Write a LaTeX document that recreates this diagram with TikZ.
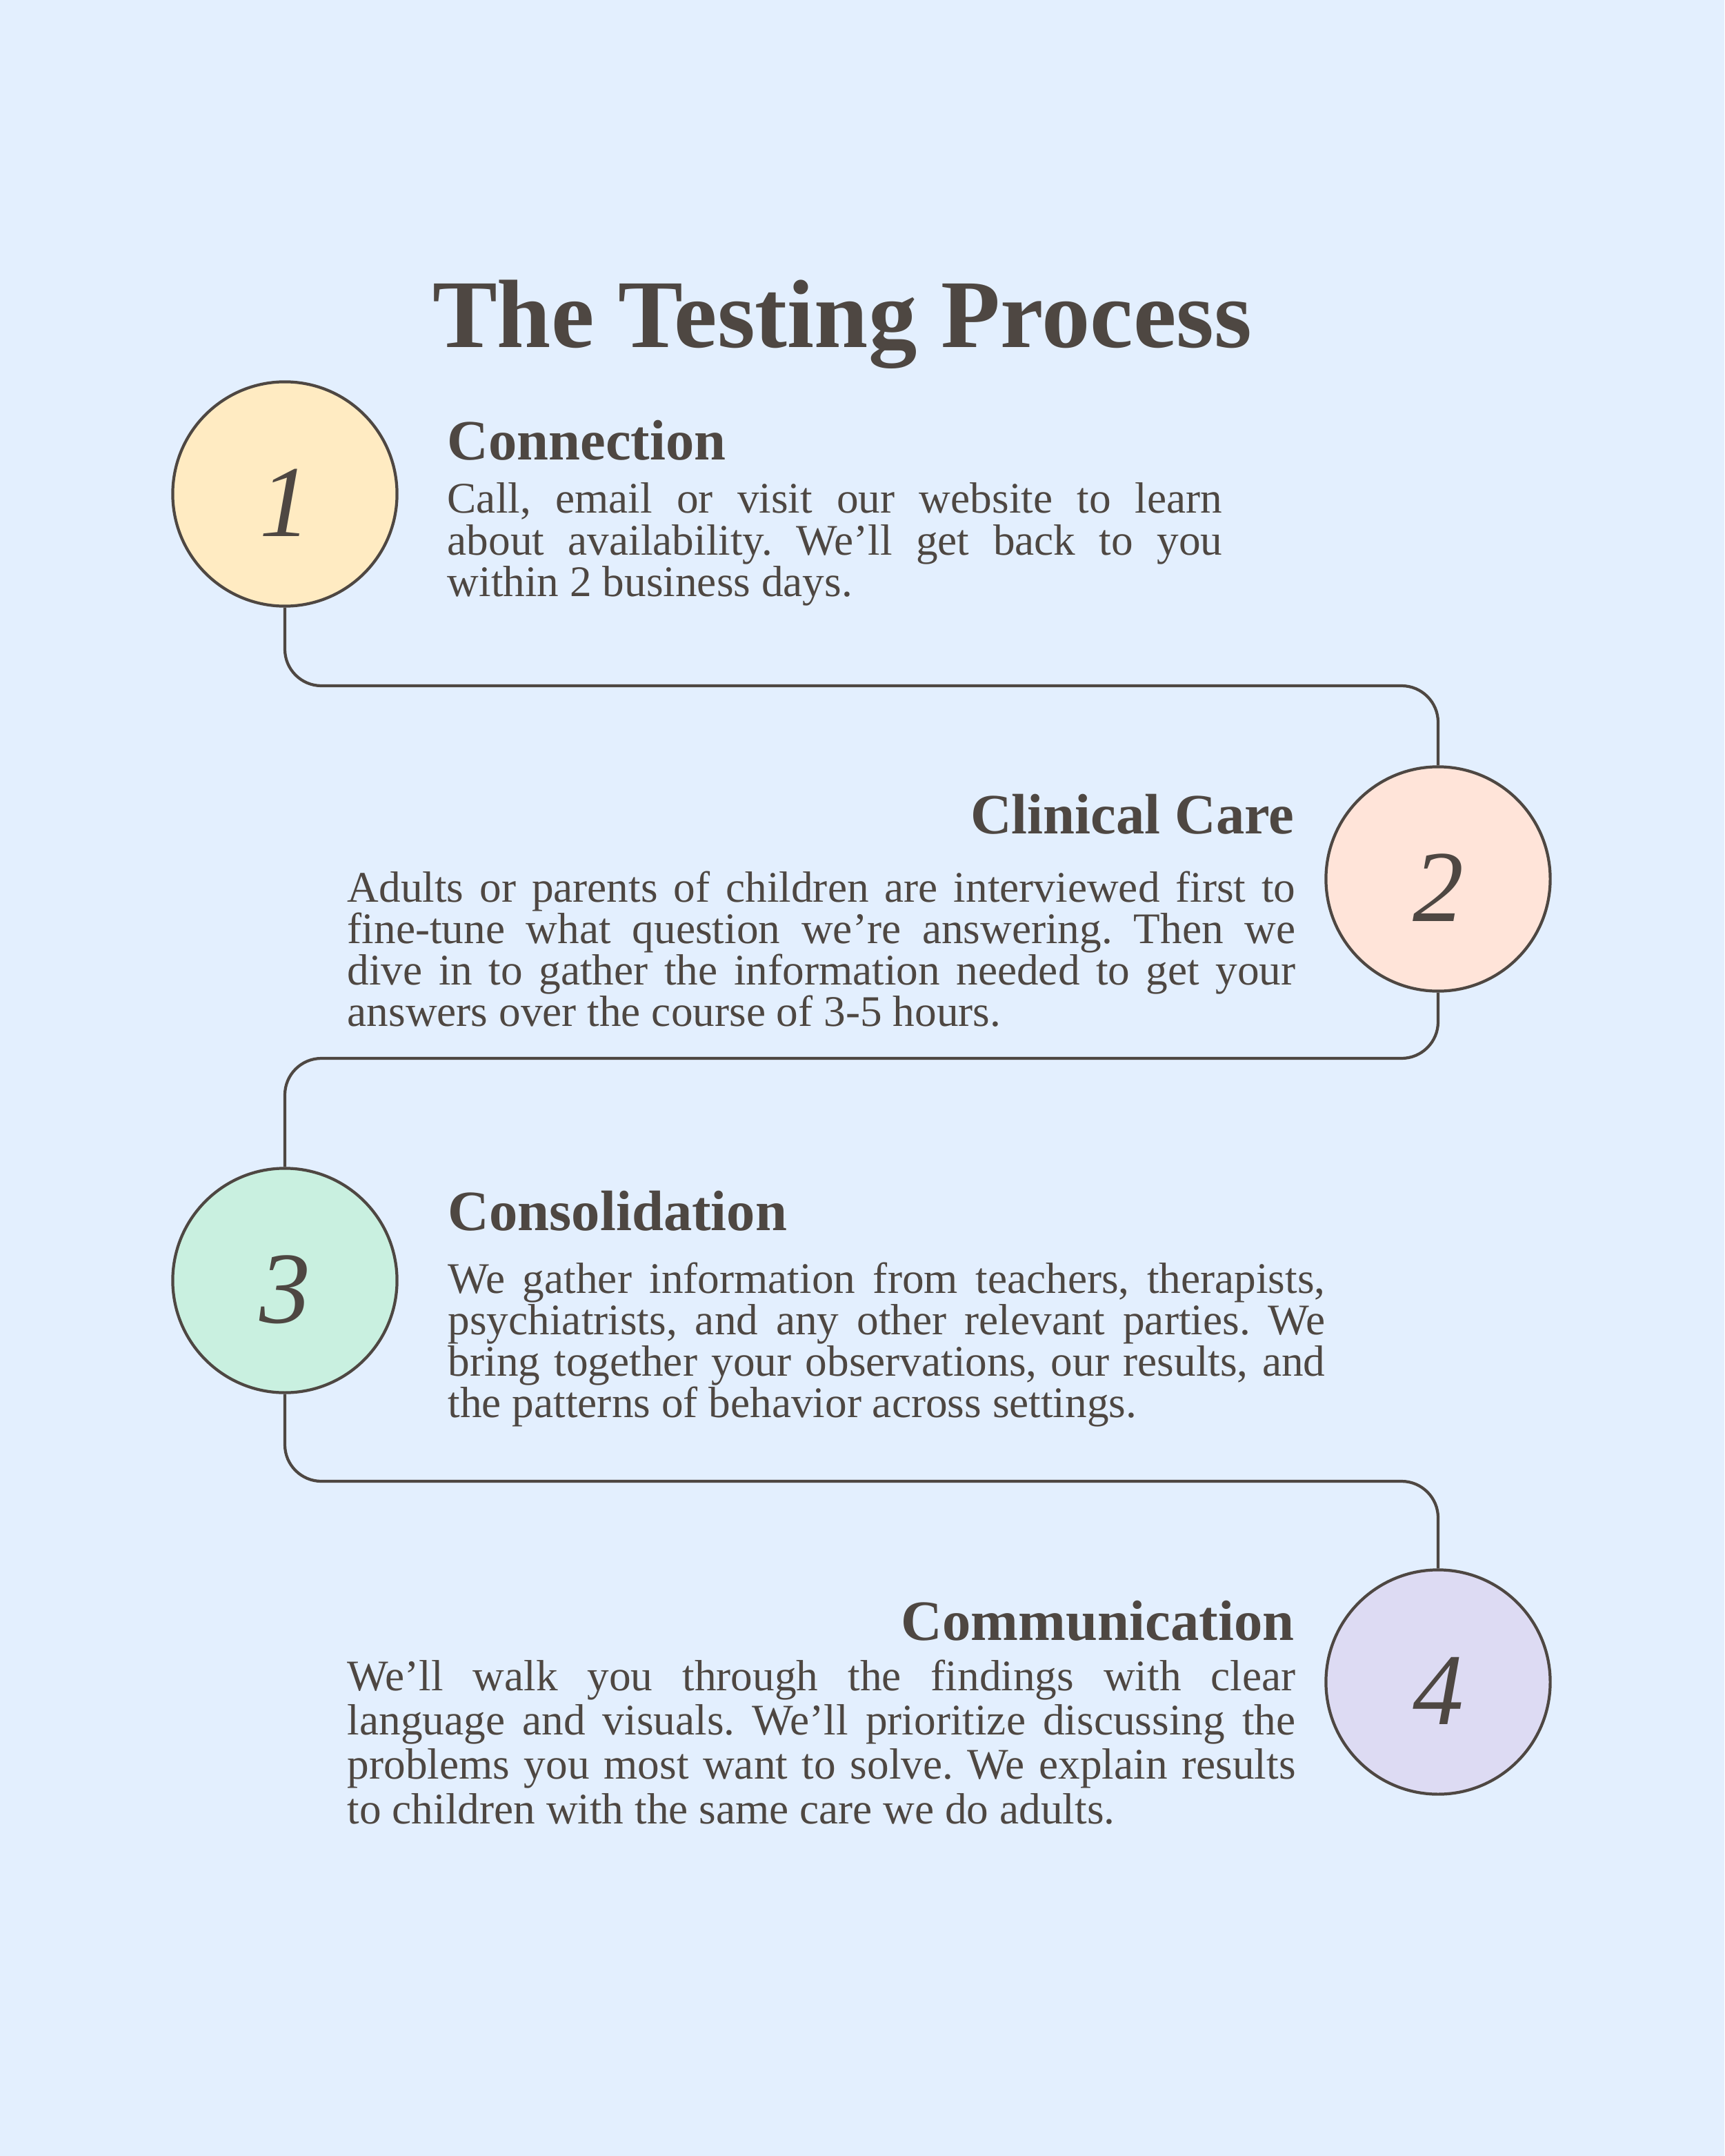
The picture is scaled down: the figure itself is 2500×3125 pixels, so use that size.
\documentclass[tikz,border=0pt]{standalone}
\usepackage{fontspec}
\setmainfont{Liberation Serif}
\usepackage{tikz}
\usetikzlibrary{positioning}
\definecolor{tpbg}{RGB}{227,239,254}
\definecolor{tpink}{RGB}{78,71,66}
\definecolor{tpyellow}{RGB}{255,235,194}
\definecolor{tppeach}{RGB}{255,228,217}
\definecolor{tpmint}{RGB}{201,240,224}
\definecolor{tplilac}{RGB}{221,219,243}
\hyphenpenalty=10000
\exhyphenpenalty=10000
\frenchspacing

\begin{document}
\begin{tikzpicture}[
      x=0.01cm, y=-0.01cm,
      stepcirc/.style={circle, draw=tpink, line width=1.2pt, minimum size=3.25cm, inner sep=0pt, text=tpink, text height=1.22cm, text depth=0pt, font=\fontsize{42}{42}\selectfont\itshape},
      head/.style={inner sep=0pt, text=tpink, font=\fontsize{23.5}{28}\selectfont\bfseries},
      body/.style={inner sep=0pt, align=justify, text=tpink, font=\fontsize{18}{17.1}\selectfont},
      link/.style={draw=tpink, line width=1.2pt, rounded corners=0.53cm}
    ]
      % page
      \fill[tpbg] (0,0) rectangle (2500,3125);

      \node[inner sep=0pt, anchor=base, text=tpink, font=\fontsize{40}{44}\selectfont\bfseries] (title) at (1221,504) {The Testing Process};

      % 1. Connection
      \node[stepcirc, fill=tpyellow] (c1) at (413,716) {1};
      \node[head, anchor=base west] (h1) at (648,667) {Connection};
      \node[body, anchor=base west, text width=11.23cm] (b1) at (648,744) {%
        Call, email or visit our website to learn\linebreak
        about availability. We’ll get back to you\linebreak
        within 2 business days.};

      % 2. Clinical Care
      \node[stepcirc, fill=tppeach] (c2) at (2085,1274) {2};
      \node[head, anchor=base east] (h2) at (1877,1208) {Clinical Care};
      \node[body, anchor=base west, text width=13.74cm] (b2) at (503,1307) {%
        Adults or parents of children are interviewed first to\linebreak
        fine-tune what question we’re answering. Then we\linebreak
        dive in to gather the information needed to get your\linebreak
        answers over the course of 3-5 hours.};

      % 3. Consolidation
      \node[stepcirc, fill=tpmint] (c3) at (413,1856) {3};
      \node[head, anchor=base west] (h3) at (649,1783) {Consolidation};
      \node[body, anchor=base west, text width=12.71cm] (b3) at (649,1874) {%
        We gather information from teachers, therapists,\linebreak
        psychiatrists, and any other relevant parties. We\linebreak
        bring together your observations, our results, and\linebreak
        the patterns of behavior across settings.};

      % 4. Communication
      \node[stepcirc, fill=tplilac] (c4) at (2085,2438) {4};
      \node[head, anchor=base east] (h4) at (1877,2377) {Communication};
      \node[body, anchor=base west, text width=13.74cm, font=\fontsize{18}{18.3}\selectfont] (b4) at (503,2450) {%
        We’ll walk you through the findings with clear\linebreak
        language and visuals. We’ll prioritize discussing the\linebreak
        problems you most want to solve. We explain results\linebreak
        to children with the same care we do adults.};

      % path between the steps
      \coordinate (k1) at (1250,994);
      \coordinate (k2) at (1250,1534);
      \coordinate (k3) at (1250,2147);
      \draw[link] (c1.south) |- (k1) -| (c2.north);
      \draw[link] (c2.south) |- (k2) -| (c3.north);
      \draw[link] (c3.south) |- (k3) -| (c4.north);
    \end{tikzpicture}
\end{document}
